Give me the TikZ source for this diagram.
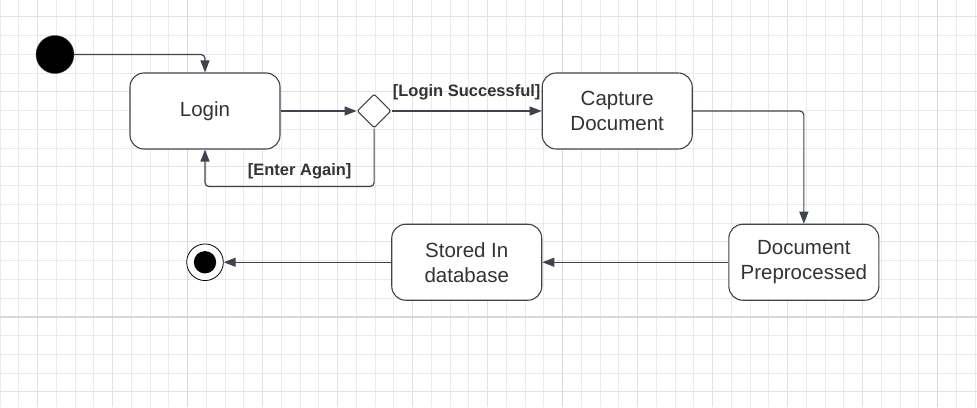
\documentclass[tikz,border=0pt]{standalone}
\usepackage{fontspec}
\setmainfont{Liberation Sans}
\usepackage{tikz}
\usetikzlibrary{shapes.geometric, arrows.meta, positioning}
\definecolor{lineC}{RGB}{62,67,77}
\definecolor{textC}{RGB}{51,51,51}
\definecolor{gridMinor}{RGB}{235,235,235}
\definecolor{gridMid}{RGB}{226,226,226}
\definecolor{gridMajor}{RGB}{216,216,216}
\tikzset{
    state/.style={rectangle, draw=lineC, fill=white, line width=1.1pt, rounded corners=14pt, minimum width=150pt, minimum height=76pt, align=center, text=textC, font=\fontsize{20.5}{25}\selectfont},
    decision/.style={diamond, draw=lineC, fill=white, line width=1.1pt, rounded corners=2pt, minimum size=34pt, inner sep=0pt, aspect=1},
    arrow/.style={-{Triangle[length=12pt, width=9pt]}, line width=1.2pt, draw=lineC, rounded corners=4pt},
    guard/.style={text=textC, font=\fontsize{16.5}{20}\selectfont\bfseries, inner sep=2pt},
    startnode/.style={circle, fill=black, draw=lineC, minimum size=38pt, inner sep=0pt},
    endnode/.style={circle, draw=black, line width=0.8pt, fill=white, minimum size=36.6pt, inner sep=0pt}
}

\begin{document}
\begin{tikzpicture}[x=1pt, y=-1pt]
    \useasboundingbox (0,0) rectangle (977,407);
    % background grid
    \begin{scope}
        \clip (0,0) rectangle (977,407);
        \fill[white] (0,0) rectangle (977,407);
        \foreach \i in {-10,...,42} \draw[gridMinor, line width=0.9pt] (187.5+\i*18.75,0) -- ++(0,407);
        \foreach \i in {0,...,21} \draw[gridMinor, line width=0.9pt] (0,16.7+\i*18.75) -- ++(977,0);
        \foreach \i in {0,...,12} \draw[gridMid, line width=1.3pt] (37.5+\i*75,0) -- ++(0,407);
        \foreach \i in {0,...,5} \draw[gridMid, line width=1.3pt] (0,16.7+\i*75) -- ++(977,0);
        \foreach \x in {187.5,562.5,937.5} \draw[gridMajor, line width=1.8pt] (\x,0) -- ++(0,407);
        \draw[gridMajor, line width=1.8pt] (0,316.7) -- ++(977,0);
    \end{scope}

    \node[startnode] (init) at (55,54.5) {};
    \node[state] (login) at (205,111) {Login};
    \node[decision, right=76pt of login] (check) {};
    \node[state, right=150pt of check] (capture) {Capture\\Document};
    \node[endnode, below=94pt of login] (final) {};
    \fill[black] (final.center) circle (11.2);
    \node[state, right=167.5pt of final] (stored) {Stored In\\database};
    \node[state, right=186pt of stored] (preproc) {Document\\Preprocessed};

    \draw[arrow] (init) -| (login);
    \draw[arrow] (login) -- (check);
    \draw[arrow] (check) -- node[guard, above=8pt] {[Login Successful]} (capture);
    \draw[arrow] (check.south) -- ++(0,58) -| node[guard, above=4.5pt, pos=0.22] {[Enter Again]} (login.south);
    \draw[arrow] (capture) -| (preproc);
    \draw[arrow] (preproc) -- (stored);
    \draw[arrow] (stored) -- (final);
\end{tikzpicture}
\end{document}
